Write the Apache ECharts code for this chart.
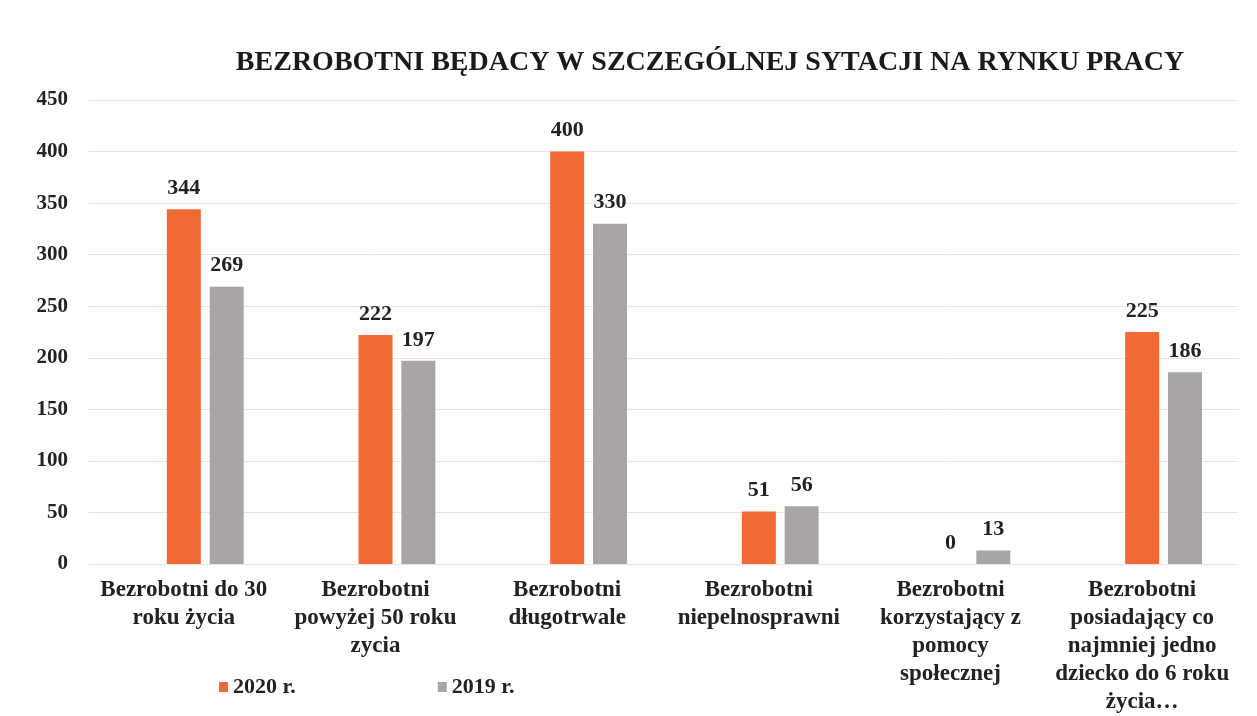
<!DOCTYPE html>
<html lang="pl">
<head>
<meta charset="UTF-8">
<title>Bezrobotni</title>
<style>
  html, body { margin: 0; padding: 0; background: #fff; }
  #main { width: 1257px; height: 716px; }
</style>
</head>
<body>
<div id="main"></div>
<script src="https://cdn.jsdelivr.net/npm/echarts@6/dist/echarts.min.js"></script>
<script>
var categories = [
  'Bezrobotni do 30\nroku życia',
  'Bezrobotni\npowyżej 50 roku\nzycia',
  'Bezrobotni\ndługotrwale',
  'Bezrobotni\nniepelnosprawni',
  'Bezrobotni\nkorzystający z\npomocy\nspołecznej',
  'Bezrobotni\nposiadający co\nnajmniej jedno\ndziecko do 6 roku\nżycia…'
];
var values2020 = [344, 222, 400, 51, 0, 225];
var values2019 = [269, 197, 330, 56, 13, 186];
var yTicks = { min: 0, max: 450, step: 50 };

var font = '"Liberation Serif", "Times New Roman", serif';
var chart = echarts.init(document.getElementById('main'));

var labelStyle = {
  show: true,
  position: 'top',
  distance: 10,
  fontFamily: font,
  fontWeight: 'bold',
  fontSize: 22,
  color: '#222'
};

chart.setOption({
  animation: false,
  title: {
    text: 'BEZROBOTNI BĘDACY W SZCZEGÓLNEJ SYTACJI NA RYNKU PRACY',
    left: 705,
    textAlign: 'center',
    top: 44,
    textStyle: { fontFamily: font, fontWeight: 'bold', fontSize: 28, color: '#1a1a1a' }
  },
  legend: {
    left: 214,
    top: 671,
    itemWidth: 9,
    itemHeight: 10,
    itemGap: 142,
    icon: 'rect',
    textStyle: { fontFamily: font, fontWeight: 'bold', fontSize: 22, color: '#222' },
    data: ['2020 r.', '2019 r.']
  },
  grid: { left: 88, top: 100, width: 1150, height: 466 },
  xAxis: {
    type: 'category',
    data: categories,
    axisLine: { show: false },
    axisTick: { show: false },
    axisLabel: {
      interval: 0,
      margin: 12,
      fontFamily: font,
      fontWeight: 'bold',
      fontSize: 23,
      lineHeight: 28,
      color: '#222'
    }
  },
  yAxis: {
    type: 'value',
    min: yTicks.min,
    max: yTicks.max,
    interval: yTicks.step,
    axisLabel: { margin: 20, fontFamily: font, fontWeight: 'bold', fontSize: 21, color: '#222' },
    splitLine: { lineStyle: { color: '#f6dcdc', width: 1 } }
  },
  series: [
    {
      // empty slot: the original chart keeps room for a third series to the left
      name: 'spacer',
      type: 'bar',
      data: [],
      barWidth: 34,
      barGap: '26%'
    },
    {
      name: '2020 r.',
      type: 'bar',
      data: values2020,
      barWidth: 34,
      barGap: '26%',
      itemStyle: { color: '#f26a33' },
      label: labelStyle
    },
    {
      name: '2019 r.',
      type: 'bar',
      data: values2019,
      barWidth: 34,
      itemStyle: { color: '#a9a5a5' },
      label: labelStyle
    }
  ]
});
</script>
</body>
</html>
